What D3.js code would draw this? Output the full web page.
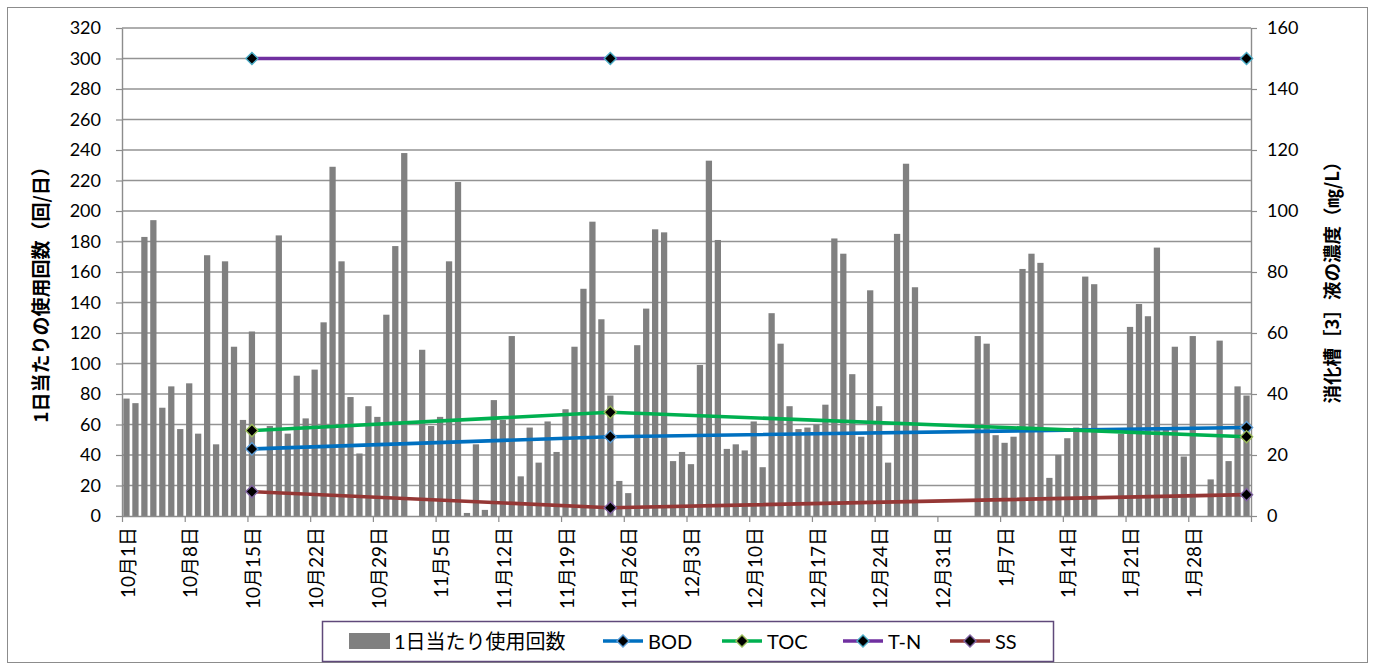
<!DOCTYPE html>
<html>
<head>
<meta charset="utf-8">
<script src="https://cdn.jsdelivr.net/npm/d3@7"></script>
<style>
  body { margin: 0; background: #fff; }
  svg { display: block; }
</style>
</head>
<body>
<svg id="chart" width="1375" height="670"></svg>
<script>
// ---- data ----------------------------------------------------------
// daily period: one bar per day starting at startDate
const startDate = "2012-10-01";
const dayCount = 126;

// 1日当たり使用回数 (回/日), one value per day
const usage = [
  77, 74, 183, 194, 71, 85, 57, 87, 54, 171,
  47, 167, 111, 63, 121, 0, 59, 184, 54, 92,
  64, 96, 127, 229, 167, 78, 41, 72, 65, 132,
  177, 238, 0, 109, 59, 65, 167, 219, 2, 47,
  4, 76, 63, 118, 26, 58, 35, 62, 42, 70,
  111, 149, 193, 129, 79, 23, 15, 112, 136, 188,
  186, 36, 42, 34, 99, 233, 181, 44, 47, 43,
  62, 32, 133, 113, 72, 57, 58, 60, 73, 182,
  172, 93, 52, 148, 72, 35, 185, 231, 150, 0,
  0, 0, 0, 0, 0, 118, 113, 53, 48, 52,
  162, 172, 166, 25, 40, 51, 58, 157, 152, 0,
  0, 54, 124, 139, 131, 176, 58, 111, 39, 118,
  0, 24, 115, 36, 85, 79
];

// sampling days for the digester liquor analyses (mg/L)
const sampleDates = ["2012-10-15", "2012-11-24", "2013-02-03"];
const bod = [22, 26, 29];
const toc = [28, 34, 26];
const tn  = [150, 150, 150];
const ss  = [8, 2.7, 7];

const leftTicks  = [0, 20, 40, 60, 80, 100, 120, 140, 160, 180, 200, 220, 240, 260, 280, 300, 320];
const rightTicks = [0, 20, 40, 60, 80, 100, 120, 140, 160];

const barLabel = "1日当たり使用回数";
const leftTitle = "1日当たりの使用回数（回/日）";
const rightTitle = "消化槽［3］液の濃度（㎎/L）";

// ---- layout --------------------------------------------------------
const plot = { left: 122, right: 1251, top: 28, bottom: 516 };
const latin = "Lato, 'Noto Sans CJK JP', sans-serif";
const cjkBold = "'Noto Sans CJK JP', sans-serif";

const svg = d3.select("#chart");
const parse = d3.utcParse("%Y-%m-%d");
const t0 = parse(startDate);
const tEnd = d3.utcDay.offset(t0, dayCount);
const days = d3.utcDay.range(t0, tEnd);

const x = d3.scaleUtc().domain([t0, tEnd]).range([plot.left, plot.right]);
const slot = (plot.right - plot.left) / dayCount;
const yL = d3.scaleLinear().domain([0, 320]).range([plot.bottom, plot.top]);
const yR = d3.scaleLinear().domain([0, 160]).range([plot.bottom, plot.top]);

// chart frame
svg.append("rect")
  .attr("x", 7.5).attr("y", 7.5).attr("width", 1360).attr("height", 655)
  .attr("fill", "#fff").attr("stroke", "#8c8c8c").attr("stroke-width", 1);

// horizontal gridlines
svg.append("g").selectAll("line")
  .data(leftTicks.filter(v => v > 0))
  .join("line")
  .attr("x1", plot.left).attr("x2", plot.right)
  .attr("y1", d => yL(d)).attr("y2", d => yL(d))
  .attr("stroke", "#939393").attr("stroke-width", 1.4);

// daily bars
const barW = slot * 0.7;
svg.append("g").selectAll("rect")
  .data(days.map((d, i) => ({ date: d, v: usage[i] })).filter(d => d.v > 0))
  .join("rect")
  .attr("x", d => x(d.date) + (slot - barW) / 2)
  .attr("width", barW)
  .attr("y", d => yL(d.v))
  .attr("height", d => yL(0) - yL(d.v))
  .attr("fill", "#808080");

// axes
const axisColor = "#8c8c8c";
function styleAxis(g) {
  g.select(".domain").attr("stroke", axisColor).attr("stroke-width", 1.4);
  g.selectAll(".tick line").attr("stroke", axisColor).attr("stroke-width", 1.2);
  g.selectAll(".tick text").attr("fill", "#000");
}

const gl = svg.append("g")
  .attr("transform", `translate(${plot.left},0)`)
  .call(d3.axisLeft(yL).tickValues(leftTicks).tickSize(6).tickPadding(15).tickSizeOuter(0))
  .attr("font-family", latin).attr("font-size", 18);
styleAxis(gl);

const gr = svg.append("g")
  .attr("transform", `translate(${plot.right},0)`)
  .call(d3.axisRight(yR).tickValues(rightTicks).tickSize(6).tickPadding(10).tickSizeOuter(0))
  .attr("font-family", latin).attr("font-size", 18);
styleAxis(gr);

const weekly = d3.utcDay.every(1).range(t0, d3.utcDay.offset(tEnd, 1)).filter((d, i) => i % 7 === 0);
const fmtDay = d => (d < tEnd ? `${d.getUTCMonth() + 1}月${d.getUTCDate()}日` : "");
const gx = svg.append("g")
  .attr("transform", `translate(0,${plot.bottom})`)
  .call(d3.axisBottom(x).tickValues(weekly).tickFormat(fmtDay).tickSize(6).tickSizeOuter(0))
  .attr("font-family", latin).attr("font-size", 19);
styleAxis(gx);
gx.selectAll(".tick text")
  .attr("x", 0).attr("y", 0).attr("dy", "0.35em")
  .attr("text-anchor", "end")
  .attr("transform", `translate(${slot / 2 + 1},11) rotate(-90)`);

// axis titles
svg.append("text")
  .attr("transform", `translate(39,290) rotate(-90)`)
  .attr("text-anchor", "middle").attr("dominant-baseline", "central")
  .attr("font-family", cjkBold).attr("font-weight", "bold").attr("font-size", 19)
  .text(leftTitle);
svg.append("text")
  .attr("transform", `translate(1331,278) rotate(-90)`)
  .attr("text-anchor", "middle").attr("dominant-baseline", "central")
  .attr("font-family", cjkBold).attr("font-weight", "bold").attr("font-size", 18.5)
  .text(rightTitle);

// concentration series
const series = [
  { name: "BOD", values: bod, line: "#0070C0", edge: "#5B9BD5" },
  { name: "TOC", values: toc, line: "#00B050", edge: "#9BBB59" },
  { name: "T-N", values: tn,  line: "#7030A0", edge: "#4BACC6" },
  { name: "SS",  values: ss,  line: "#953735", edge: "#8064A2" }
];
const sampleT = sampleDates.map(parse);
const diamond = d3.symbol().type(d3.symbolSquare).size(74);
const line = d3.line().x(d => x(d.date) + slot / 2).y(d => yR(d.v));

series.forEach(s => {
  const pts = sampleT.map((d, i) => ({ date: d, v: s.values[i] }));
  const g = svg.append("g");
  g.append("path").datum(pts)
    .attr("d", line).attr("fill", "none")
    .attr("stroke", s.line).attr("stroke-width", 3.6).attr("stroke-linejoin", "round");
  g.selectAll("path.mk").data(pts).join("path")
    .attr("class", "mk")
    .attr("d", diamond)
    .attr("transform", d => `translate(${x(d.date) + slot / 2},${yR(d.v)}) rotate(45)`)
    .attr("fill", "#000").attr("stroke", s.edge).attr("stroke-width", 1.4);
});

// legend
const lg = svg.append("g");
lg.append("rect")
  .attr("x", 322.5).attr("y", 621.5).attr("width", 731).attr("height", 40)
  .attr("fill", "#fff").attr("stroke", "#5F497A").attr("stroke-width", 1.5);
const ly = 641;
lg.append("rect").attr("x", 349).attr("y", ly - 8).attr("width", 41).attr("height", 16).attr("fill", "#808080");
lg.append("text").attr("x", 394).attr("y", ly).attr("dominant-baseline", "central")
  .attr("font-family", latin).attr("font-size", 20).text(barLabel);

const legendX = [603, 722, 843, 950];
series.forEach((s, i) => {
  const x0 = legendX[i];
  lg.append("line").attr("x1", x0).attr("x2", x0 + 40).attr("y1", ly).attr("y2", ly)
    .attr("stroke", s.line).attr("stroke-width", 3.6);
  lg.append("path").attr("d", diamond)
    .attr("transform", `translate(${x0 + 20},${ly}) rotate(45)`)
    .attr("fill", "#000").attr("stroke", s.edge).attr("stroke-width", 1.4);
  lg.append("text").attr("x", x0 + 45).attr("y", ly).attr("dominant-baseline", "central")
    .attr("font-family", latin).attr("font-size", 20).text(s.name);
});
</script>
</body>
</html>
